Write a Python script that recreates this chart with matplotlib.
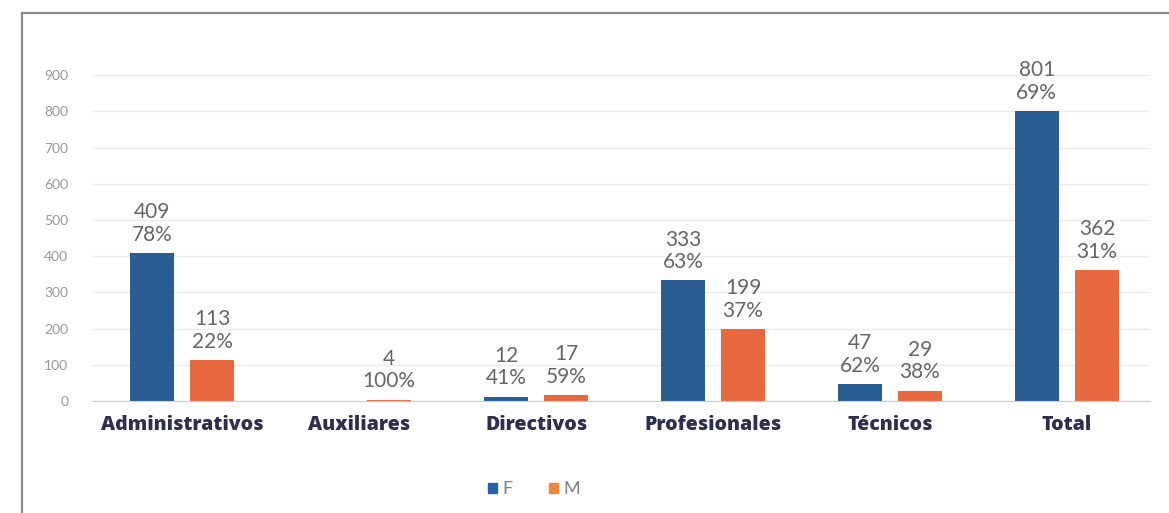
import matplotlib
matplotlib.use("Agg")
import matplotlib.pyplot as plt
from matplotlib.patches import Patch
from matplotlib.lines import Line2D
import numpy as np

categories = ["Administrativos", "Auxiliares", "Directivos", "Profesionales", "Técnicos", "Total"]
values_F = [409, 0, 12, 333, 47, 801]
values_M = [113, 4, 17, 199, 29, 362]
pct_F = ["78%", None, "41%", "63%", "62%", "69%"]
pct_M = ["22%", "100%", "59%", "37%", "38%", "31%"]
yticks = [0, 100, 200, 300, 400, 500, 600, 700, 800, 900]

blue = "#2a5e93"
orange = "#e8683f"

plt.rcParams['font.family'] = ['Lato', 'DejaVu Sans']

fig = plt.figure(figsize=(11.69, 5.13), dpi=100)
ax = fig.add_axes([92/1169, 112/513, (1150-92)/1169, (401-68)/513])

x = np.arange(len(categories))
w = 0.25
off = 0.17
bF = ax.bar(x - off, values_F, width=w, color=blue, zorder=3)
bM = ax.bar(x + off, values_M, width=w, color=orange, zorder=3)

def label(bars, vals, pcts):
    for b, v, p in zip(bars, vals, pcts):
        if p is None:
            continue
        ax.annotate(f"{v}\n{p}", (b.get_x() + b.get_width()/2, b.get_height()),
                    xytext=(0, 6), textcoords="offset points", ha="center", va="bottom",
                    fontsize=15, color="#666666", fontweight="normal", linespacing=1.15,
                    annotation_clip=False)

label(bF, values_F, pct_F)
label(bM, values_M, pct_M)

ax.set_xlim(-0.51, 5.47)
ax.set_ylim(0, 920)
ax.set_yticks(yticks)
ax.set_yticklabels([str(t) for t in yticks], fontsize=10, color="#999999")
ax.tick_params(axis="y", length=0, pad=17)
ax.set_xticks(x)
ax.set_xticklabels(categories, fontsize=14, fontweight="heavy", color="#2d2f4e",
                   family=["Open Sans", "DejaVu Sans"])
ax.tick_params(axis="x", length=0, pad=10)
ax.grid(axis="y", color="#ececec", linewidth=1, zorder=0)
for s in ["top", "right", "left"]:
    ax.spines[s].set_visible(False)
ax.spines["bottom"].set_color("#cccccc")
ax.spines["bottom"].set_zorder(4)

handles = [Patch(color="#2563a8", label="F"), Patch(color="#f0883a", label="M")]
fig.legend(handles=handles, loc="center", bbox_to_anchor=(0.457, 0.046), ncol=2, frameon=False,
           fontsize=13, handlelength=0.5, handleheight=0.5, handletextpad=0.3, columnspacing=2.0,
           labelcolor="#808080")

# outer frame
fx = 22/1169
fy = 1 - 13/513
fig.add_artist(Line2D([fx, fx], [0, fy], transform=fig.transFigure, color="#8a8a8a", linewidth=1.6))
fig.add_artist(Line2D([fx, 1], [fy, fy], transform=fig.transFigure, color="#8a8a8a", linewidth=1.6))

fig.savefig("out.png", dpi=100, facecolor="white")
